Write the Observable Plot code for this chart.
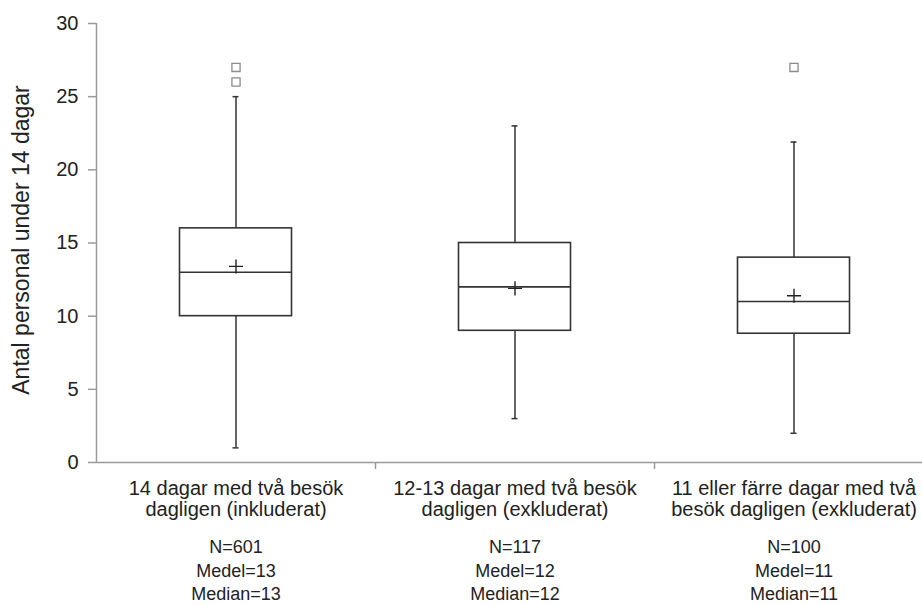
<!DOCTYPE html>
<html>
<head>
<meta charset="utf-8">
<script src="https://cdn.jsdelivr.net/npm/d3@7"></script>
<script src="https://cdn.jsdelivr.net/npm/@observablehq/plot@0.6"></script>
<style>
  html, body { margin: 0; padding: 0; background: #fff; overflow: hidden; }
  #chart { width: 922px; height: 605px; overflow: hidden; }
</style>
</head>
<body>
<div id="chart"></div>
<script>
// ---- data ----
const categories = [
  "14 dagar med två besök\ndagligen (inkluderat)",
  "12-13 dagar med två besök\ndagligen (exkluderat)",
  "11 eller färre dagar med två\nbesök dagligen (exkluderat)"
];
const nValues = [601, 117, 100];
const medelValues = [13, 12, 11];
const medianLabels = [13, 12, 11];
const q1 = [10, 9, 8.8];
const medianValues = [13, 12, 11];
const q3 = [16, 15, 14];
const meanValues = [13.4, 11.9, 11.4];
const whiskerLow = [1, 3, 2];
const whiskerHigh = [25, 23, 21.9];
const outlierGroup = [0, 0, 2];
const outlierValues = [27, 26, 27];
const yTicks = [0, 5, 10, 15, 20, 25, 30];
const yLabel = "Antal personal under 14 dagar";

// ---- tables built from the arrays ----
const boxes = categories.map((c, i) => ({
  pos: i + 1, lo: i + 0.5, hi: i + 1.5,
  label: c,
  stats: `N=${nValues[i]}\nMedel=${medelValues[i]}\nMedian=${medianLabels[i]}`,
  q1: q1[i], med: medianValues[i], q3: q3[i], mean: meanValues[i],
  wlo: whiskerLow[i], whi: whiskerHigh[i]
}));
const outliers = outlierGroup.map((g, i) => ({pos: g + 1, v: outlierValues[i]}));
const boundaries = boxes.slice(1).map(d => d.lo);

const boxInset = 83.5;
const capInset = 136.5;
const dark = "#333";
const axisGray = "#9a9a9a";

const chart = Plot.plot({
  width: 922,
  height: 605,
  marginLeft: 96,
  marginRight: 0,
  marginTop: 23,
  marginBottom: 143,
  style: {fontFamily: "'Liberation Sans', Arial, sans-serif", color: "#222", background: "#fff"},
  x: {type: "linear", domain: [0.5, 3.5], range: [96, 933]},
  y: {domain: [0, 30]},
  marks: [
    // axes
    Plot.ruleX([0.5], {stroke: axisGray, strokeWidth: 1.5}),
    Plot.ruleY([0], {stroke: axisGray, strokeWidth: 1.5}),
    Plot.axisY({ticks: yTicks, tickSize: 8, tickPadding: 10, fontSize: 20, stroke: axisGray, strokeWidth: 1.5, label: null}),
    Plot.axisX({ticks: boundaries, tickSize: 7, tickFormat: () => "", stroke: axisGray, strokeWidth: 1.5, label: null}),
    Plot.text([yLabel], {frameAnchor: "left", textAnchor: "middle", lineAnchor: "middle", rotate: -90, dx: -75, dy: -3, fontSize: 23, fill: "#222"}),
    // whiskers
    Plot.ruleX(boxes, {x: "pos", y1: "wlo", y2: "q1", stroke: dark, strokeWidth: 1.5}),
    Plot.ruleX(boxes, {x: "pos", y1: "q3", y2: "whi", stroke: dark, strokeWidth: 1.5}),
    Plot.ruleY(boxes, {y: "wlo", x1: "lo", x2: "hi", insetLeft: capInset, insetRight: capInset, stroke: dark, strokeWidth: 1.5}),
    Plot.ruleY(boxes, {y: "whi", x1: "lo", x2: "hi", insetLeft: capInset, insetRight: capInset, stroke: dark, strokeWidth: 1.5}),
    // boxes
    Plot.rect(boxes, {x1: "lo", x2: "hi", y1: "q1", y2: "q3", insetLeft: boxInset, insetRight: boxInset, fill: "#fff", stroke: dark, strokeWidth: 1.6}),
    Plot.ruleY(boxes, {y: "med", x1: "lo", x2: "hi", insetLeft: boxInset, insetRight: boxInset, stroke: dark, strokeWidth: 1.6}),
    // means
    Plot.dot(boxes, {x: "pos", y: "mean", symbol: "plus", r: 4.6, stroke: "#222", strokeWidth: 1.4}),
    // outliers
    Plot.dot(outliers, {x: "pos", y: "v", symbol: "square", r: 4.6, stroke: "#8a8a8a", fill: "none", strokeWidth: 1.3}),
    // category labels
    Plot.text(boxes, {x: "pos", text: "label", frameAnchor: "bottom", lineAnchor: "top", dy: 17, fontSize: 20, lineHeight: 1.07, fill: "#222"}),
    Plot.text(boxes, {x: "pos", text: "stats", frameAnchor: "bottom", lineAnchor: "top", dy: 74, fontSize: 18, lineHeight: 1.3, fill: "#222"})
  ]
});
document.getElementById("chart").appendChild(chart);
</script>
</body>
</html>
